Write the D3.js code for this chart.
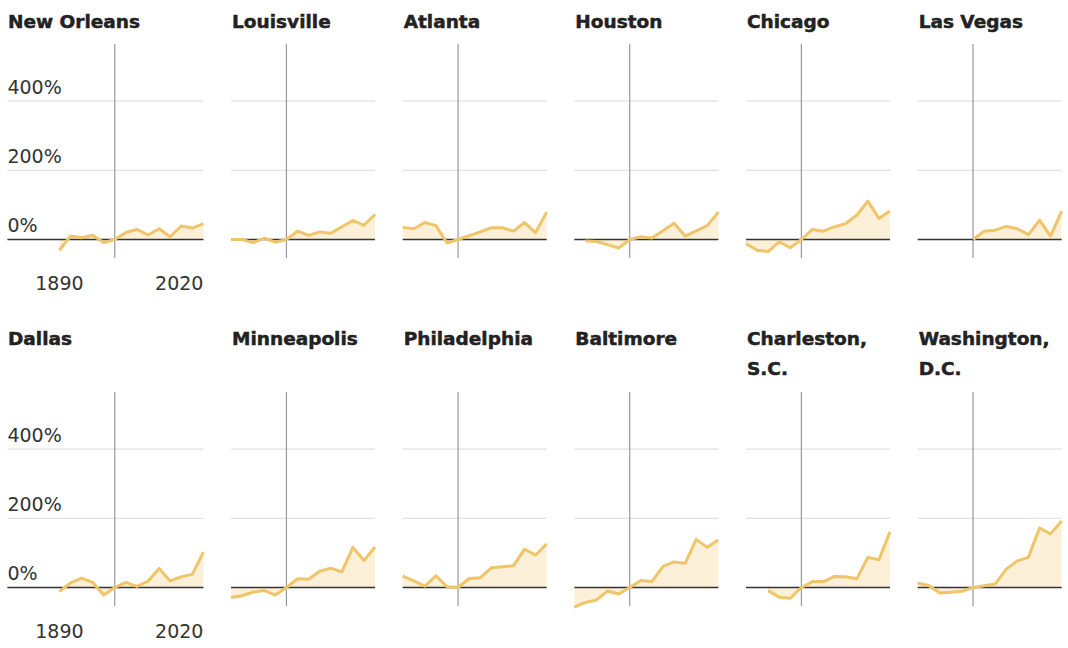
<!DOCTYPE html>
<html>
<head>
<meta charset="utf-8">
<script src="https://cdn.jsdelivr.net/npm/d3@7"></script>
<style>
  body { margin: 0; background: #fff; }
  .title { font-family: "DejaVu Sans", sans-serif; font-weight: bold; font-size: 18.5px; fill: #222; stroke: #222; stroke-width: 0.5px; }
  .tick-label { font-family: "DejaVu Sans", sans-serif; font-size: 19px; fill: #333; }
</style>
</head>
<body>
<div class="grid"></div>
<script>
// decades, change in % relative to 1940
var years = [1890, 1900, 1910, 1920, 1930, 1940, 1950, 1960, 1970, 1980, 1990, 2000, 2010, 2020];
var yTicks = [0, 200, 400];
var xTickLabels = ["1890", "2020"];

var cityNames = [
    ["New Orleans"], ["Louisville"], ["Atlanta"], ["Houston"], ["Chicago"], ["Las Vegas"],
    ["Dallas"], ["Minneapolis"], ["Philadelphia"], ["Baltimore"], ["Charleston,", "S.C."], ["Washington,", "D.C."]
];

var newOrleans   = [-31, 10, 5, 12, -9, 0, 20, 29, 13, 31, 8, 39, 33, 46];
var louisville   = [0, 0, -9, 4, -8, 0, 24, 12, 22, 18, 37, 55, 41, 73];
var atlanta      = [35, 31, 49, 40, -10, 0, 11, 22, 34, 34, 24, 49, 20, 79];
var houston      = [null, -4, -6, -15, -25, 0, 8, 4, 25, 47, 10, 25, 40, 79];
var chicago      = [-12, -31, -35, -7, -24, 0, 29, 24, 37, 46, 70, 111, 61, 82];
var lasVegas     = [null, null, null, null, null, 0, 24, 27, 38, 31, 14, 56, 10, 82];
var dallas       = [-12, 13, 27, 15, -22, 0, 15, 3, 18, 55, 19, 31, 38, 102];
var minneapolis  = [-29, -24, -13, -9, -22, 0, 25, 24, 47, 56, 45, 116, 78, 117];
var philadelphia = [33, 19, 4, 34, 2, 0, 26, 28, 57, 60, 63, 111, 94, 126];
var baltimore    = [-57, -43, -36, -10, -19, 0, 20, 17, 61, 74, 70, 139, 116, 137];
var charleston   = [null, null, -9, -28, -31, 0, 17, 17, 32, 31, 25, 87, 80, 161];
var washington   = [13, 6, -16, -14, -11, 0, 5, 10, 53, 77, 87, 172, 155, 192];

var cityValues = [newOrleans, louisville, atlanta, houston, chicago, lasVegas,
    dallas, minneapolis, philadelphia, baltimore, charleston, washington];

var width = 1068,
    height = 648,
    plotWidth = 144,
    colStep = 171.65,
    firstLeft = 59.4,
    labelSpace = 52,
    rowStep = 348,
    titleY = [28, 345],
    refYear = 1940;

var svg = d3.select(".grid")
    .append("svg")
    .attr("width", width)
    .attr("height", height);

var x = d3.scaleLinear()
    .domain([years[0], years[years.length - 1]])
    .range([0, plotWidth]);

var y = d3.scaleLinear()
    .domain([-53.5, 565])
    .range([258, 44]);

var area = d3.area()
    .defined(function (d) { return d.value != null; })
    .x(function (d) { return x(d.year); })
    .y0(y(0))
    .y1(function (d) { return y(d.value); });

var line = d3.line()
    .defined(function (d) { return d.value != null; })
    .x(function (d) { return x(d.year); })
    .y(function (d) { return y(d.value); });

cityNames.forEach(function (name, i) {
    var row = Math.floor(i / 6),
        col = i % 6,
        left = firstLeft + col * colStep,
        gridLeft = col === 0 ? -labelSpace : 0;

    var points = years.map(function (yr, j) { return { year: yr, value: cityValues[i][j] }; });

    // title, may wrap onto two lines
    var title = svg.append("text")
        .attr("class", "title")
        .attr("x", col === 0 ? 8 : left + 1)
        .attr("y", titleY[row]);
    name.forEach(function (part, k) {
        title.append("tspan")
            .attr("x", col === 0 ? 8 : left + 1)
            .attr("dy", k === 0 ? 0 : 30)
            .text(part);
    });

    var g = svg.append("g")
        .attr("transform", "translate(" + left + "," + (row * rowStep) + ")");

    // gridlines
    g.selectAll(".grid-line")
        .data(yTicks.filter(function (t) { return t !== 0; }))
        .enter()
        .append("line")
        .attr("class", "grid-line")
        .attr("x1", gridLeft)
        .attr("x2", plotWidth)
        .attr("y1", function (t) { return y(t); })
        .attr("y2", function (t) { return y(t); })
        .attr("stroke", "#d9d9d9")
        .attr("stroke-width", 1);

    g.append("path")
        .datum(points)
        .attr("d", area)
        .attr("fill", "#fcf0d8");

    // reference year
    g.append("line")
        .attr("x1", x(refYear))
        .attr("x2", x(refYear))
        .attr("y1", y.range()[1])
        .attr("y2", y.range()[0])
        .attr("stroke", "#999")
        .attr("stroke-width", 1.2);

    g.append("line")
        .attr("x1", gridLeft)
        .attr("x2", plotWidth)
        .attr("y1", y(0))
        .attr("y2", y(0))
        .attr("stroke", "#333")
        .attr("stroke-width", 1.5);

    g.append("path")
        .datum(points)
        .attr("d", line)
        .attr("fill", "none")
        .attr("stroke", "#f0c469")
        .attr("stroke-width", 3)
        .attr("stroke-linejoin", "round");

    if (col === 0) {
        g.selectAll(".y-label")
            .data(yTicks)
            .enter()
            .append("text")
            .attr("class", "tick-label")
            .attr("x", gridLeft)
            .attr("y", function (t) { return y(t) - 7; })
            .text(function (t) { return t + "%"; });

        g.selectAll(".x-label")
            .data(xTickLabels)
            .enter()
            .append("text")
            .attr("class", "tick-label")
            .attr("x", function (t) { return x(+t); })
            .attr("y", 290)
            .attr("text-anchor", function (t, k) { return k === 0 ? "middle" : "end"; })
            .text(function (t) { return t; });
    }
});
</script>
</body>
</html>
